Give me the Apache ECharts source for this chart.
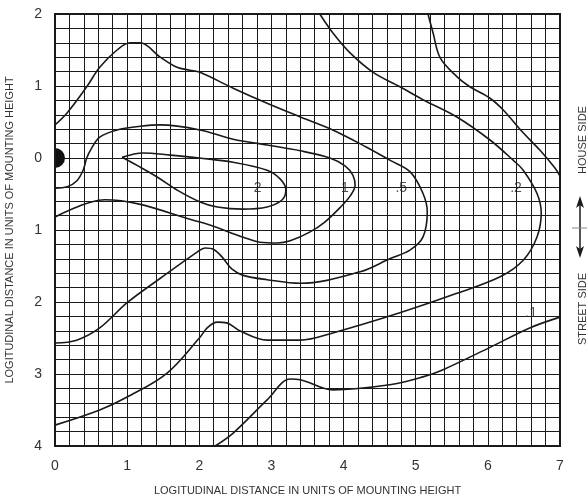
<!DOCTYPE html>
<html>
<head>
<meta charset="utf-8">
<script src="https://cdn.jsdelivr.net/npm/echarts@6/dist/echarts.min.js"></script>
<style>
  html, body { margin: 0; padding: 0; background: #fff; }
  #chart { width: 587px; height: 500px; }
</style>
</head>
<body>
<div id="chart"></div>
<script>
// isofootcandle lines, x = transverse distance, y = + house side / - street side
var xTicks = [0, 1, 2, 3, 4, 5, 6, 7];
var yTicks = [2, 1, 0, 1, 2, 3, 4];

var line2 = [[0.93,0.01],[1.22,0.07],[1.6,0.04],[2.0,0.0],[2.47,-0.06],[2.94,-0.17],[3.12,-0.29],[3.2,-0.44],[3.15,-0.58],[2.94,-0.68],[2.6,-0.71],[2.25,-0.68],[2.01,-0.61],[1.7,-0.45],[1.41,-0.26],[1.15,-0.11],[0.93,0.01]];

var line1 = [[0,-0.42],[0.17,-0.4],[0.3,-0.32],[0.39,-0.17],[0.44,0.0],[0.51,0.14],[0.62,0.29],[0.86,0.39],[1.18,0.44],[1.46,0.46],[2.01,0.39],[2.47,0.26],[2.94,0.18],[3.4,0.1],[3.81,0.0],[4.02,-0.11],[4.13,-0.24],[4.16,-0.38],[4.09,-0.53],[3.95,-0.69],[3.74,-0.89],[3.53,-1.03],[3.26,-1.15],[3.08,-1.18],[2.84,-1.17],[2.61,-1.1],[2.01,-0.89],[0.69,-0.58],[0,-0.82]];

var line05 = [[0,0.46],[0.17,0.63],[0.44,0.99],[0.62,1.26],[0.86,1.5],[1.04,1.6],[1.18,1.6],[1.46,1.4],[1.69,1.26],[1.87,1.22],[2.01,1.19],[2.47,0.97],[2.94,0.76],[3.4,0.57],[3.85,0.39],[4.32,0.15],[4.64,-0.03],[4.92,-0.19],[5.1,-0.49],[5.16,-0.75],[5.1,-1.1],[4.92,-1.28],[4.64,-1.4],[4.23,-1.58],[3.4,-1.74],[2.94,-1.69],[2.61,-1.63],[2.45,-1.54],[2.32,-1.38],[2.2,-1.27],[2.08,-1.25],[1.98,-1.3],[1.46,-1.67],[1.0,-2.01],[0.62,-2.36],[0.3,-2.53],[0,-2.57]];

var line02 = [[3.67,2.0],[3.85,1.74],[4.09,1.46],[4.41,1.19],[4.78,0.99],[5.1,0.81],[5.57,0.57],[6.03,0.25],[6.35,-0.03],[6.49,-0.17],[6.68,-0.49],[6.74,-0.76],[6.68,-1.1],[6.49,-1.42],[6.17,-1.65],[5.57,-1.88],[4.78,-2.15],[3.85,-2.43],[3.4,-2.53],[2.94,-2.53],[2.56,-2.4],[2.38,-2.29],[2.25,-2.28],[2.11,-2.36],[2.01,-2.49],[1.55,-2.99],[1.0,-3.32],[0.62,-3.5],[0,-3.71]];

var line01a = [[5.17,2.0],[5.24,1.74],[5.34,1.39],[5.57,1.13],[5.75,0.99],[6.03,0.83],[6.21,0.67],[6.49,0.35],[6.72,0.11],[6.93,-0.14],[7.0,-0.25]];
var line01b = [[2.22,-4.0],[2.47,-3.82],[2.94,-3.36],[3.26,-3.07],[3.4,-3.08],[3.85,-3.22],[4.64,-3.15],[5.1,-3.04],[5.38,-2.94],[6.03,-2.63],[6.58,-2.36],[7.0,-2.21]];

var labelNames = ['2', '1', '.5', '.2', '.1'];
var labelPos = [[2.81,-0.42],[4.02,-0.42],[4.8,-0.42],[6.39,-0.42],[6.6,-2.15]];

var luminaire = [[0, 0]];

var titleText = 'LOGITUDINAL DISTANCE IN UNITS OF MOUNTING HEIGHT';
var ink = '#1a1a1a';
var font = 'Liberation Sans, Arial, sans-serif';

function contour(data) {
  return {
    type: 'line',
    data: data,
    smooth: 0.35,
    showSymbol: false,
    symbol: 'none',
    silent: true,
    z: 5,
    lineStyle: { color: ink, width: 1.6 }
  };
}

var myChart = echarts.init(document.getElementById('chart'));

var option = {
  animation: false,
  backgroundColor: '#fff',
  grid: {
    left: 55, right: 27, top: 14, bottom: 54,
    outerBoundsMode: 'none', containLabel: false,
    show: true, borderColor: ink, borderWidth: 2, z: 10
  },
  xAxis: {
    type: 'value', min: 0, max: 7, interval: 1,
    name: titleText, nameLocation: 'middle', nameGap: 39,
    nameTextStyle: { fontFamily: font, fontSize: 11, color: '#333' },
    axisLine: { show: false },
    axisTick: { show: false },
    axisLabel: {
      margin: 13, fontFamily: font, fontSize: 14, color: '#333',
      formatter: function (v) { return xTicks[v]; }
    },
    splitLine: { show: true, lineStyle: { color: ink, width: 1 } },
    minorTick: { show: false, splitNumber: 5 },
    minorSplitLine: { show: true, lineStyle: { color: ink, width: 1 } }
  },
  yAxis: {
    type: 'value', min: -4, max: 2, interval: 1,
    name: titleText, nameLocation: 'middle', nameGap: 40,
    nameTextStyle: { fontFamily: font, fontSize: 11, color: '#333' },
    axisLine: { show: false },
    axisTick: { show: false },
    axisLabel: {
      margin: 13, fontFamily: font, fontSize: 14, color: '#333',
      formatter: function (v) { return yTicks[2 - v]; }
    },
    splitLine: { show: true, lineStyle: { color: ink, width: 1 } },
    minorTick: { show: false, splitNumber: 5 },
    minorSplitLine: { show: true, lineStyle: { color: ink, width: 1 } }
  },
  graphic: [
    {
      type: 'text', x: 583, y: 140, rotation: Math.PI / 2,
      style: { text: 'HOUSE SIDE', font: '11px ' + font, fill: '#333', textAlign: 'center', textVerticalAlign: 'middle' }
    },
    {
      type: 'text', x: 583, y: 309, rotation: Math.PI / 2,
      style: { text: 'STREET SIDE', font: '11px ' + font, fill: '#333', textAlign: 'center', textVerticalAlign: 'middle' }
    },
    { type: 'line', shape: { x1: 580, y1: 203, x2: 580, y2: 251 }, style: { stroke: ink, lineWidth: 1.5 } },
    { type: 'line', shape: { x1: 572, y1: 228, x2: 587, y2: 228 }, style: { stroke: '#888', lineWidth: 1 } },
    { type: 'polygon', shape: { points: [[580, 196], [576, 208], [580, 205], [584, 208]] }, style: { fill: ink } },
    { type: 'polygon', shape: { points: [[580, 258], [576, 246], [580, 249], [584, 246]] }, style: { fill: ink } }
  ],
  series: [
    contour(line2),
    contour(line1),
    contour(line05),
    contour(line02),
    contour(line01a),
    contour(line01b),
    {
      type: 'scatter',
      data: labelPos.map(function (p, i) { return [p[0], p[1], labelNames[i]]; }),
      symbolSize: 0,
      silent: true,
      z: 6,
      label: {
        show: true, position: 'inside',
        fontFamily: font, fontSize: 14, color: '#222',
        formatter: function (p) { return p.data[2]; }
      }
    },
    {
      type: 'custom',
      data: luminaire,
      z: 7,
      renderItem: function (params, api) {
        var c = api.coord([api.value(0), api.value(1)]);
        return {
          type: 'sector',
          shape: { cx: c[0], cy: c[1], r0: 0, r: 10, startAngle: -Math.PI / 2, endAngle: Math.PI / 2 },
          style: { fill: '#111' }
        };
      }
    }
  ]
};

myChart.setOption(option);
</script>
</body>
</html>
